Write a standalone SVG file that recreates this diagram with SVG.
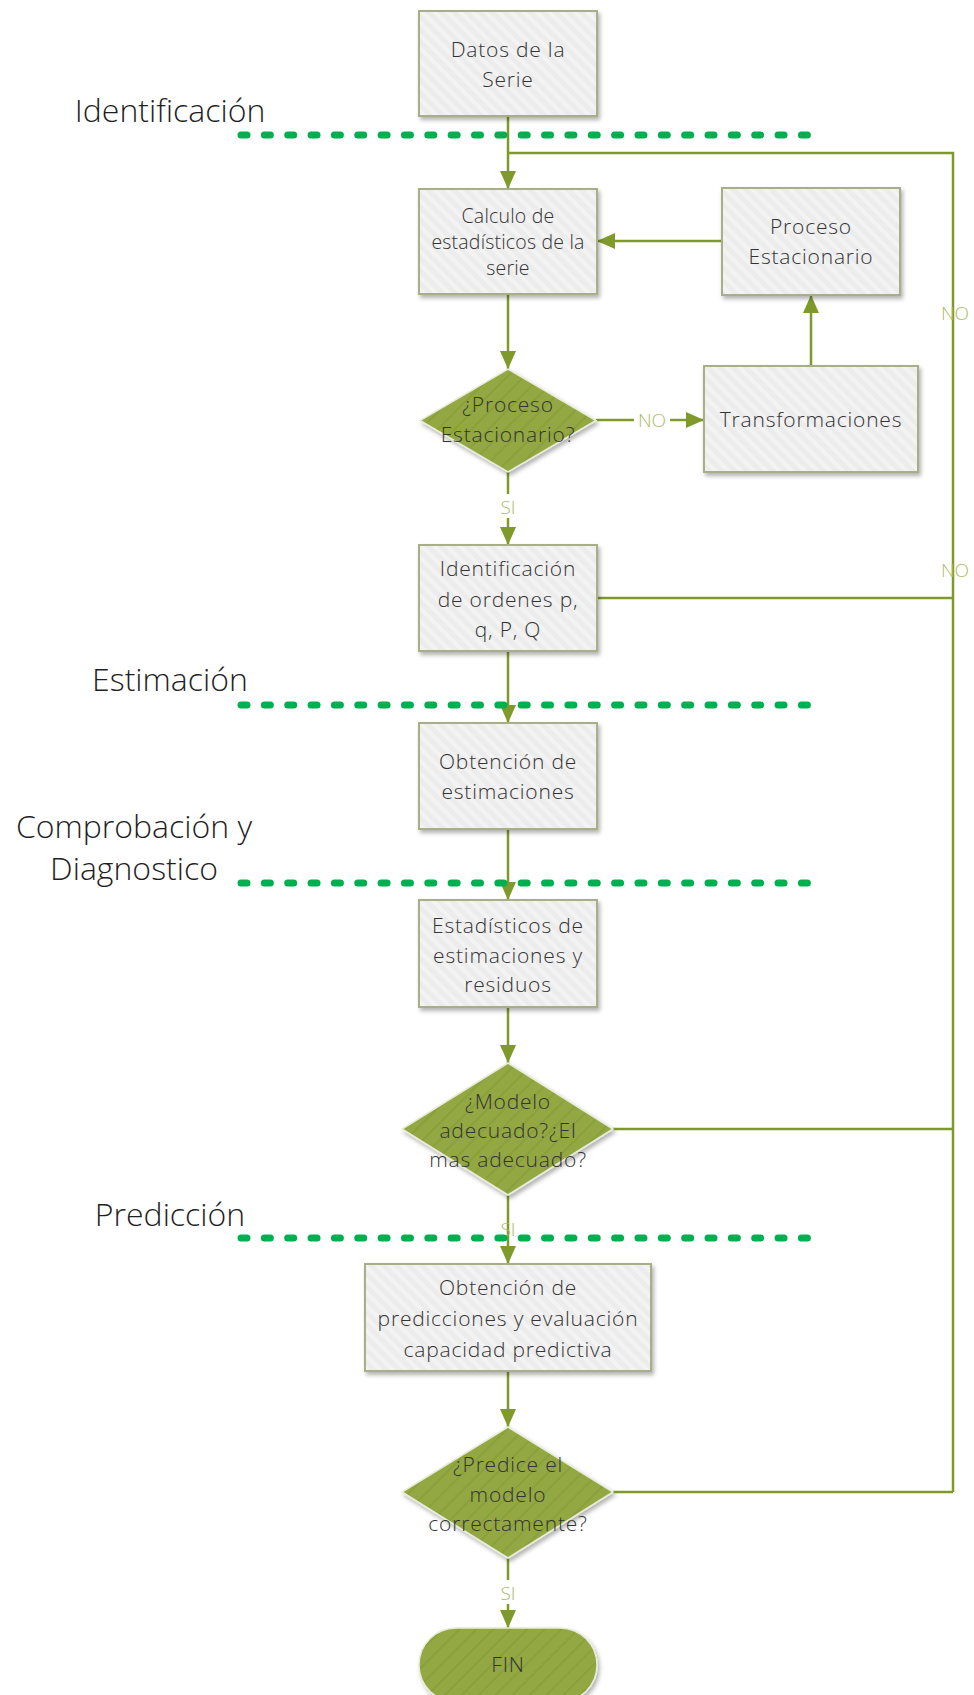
<svg xmlns="http://www.w3.org/2000/svg" width="974" height="1695" viewBox="0 0 974 1695">
<defs>
<style>
.box{fill:url(#stripe);stroke:#a8ae87;stroke-width:2;filter:url(#sh)}
.dia{fill:url(#gstripe);stroke:#e8ecd8;stroke-width:1.5;filter:url(#sh)}
.t{font-family:"Open Sans","Liberation Sans",sans-serif;font-weight:300;font-size:21px;letter-spacing:0.8px;fill:#333;text-anchor:middle}
.ts{font-size:19.5px;letter-spacing:0.2px}
.ph{font-family:"Open Sans","Liberation Sans",sans-serif;font-weight:300;font-size:32px;fill:#1f1f1f;text-anchor:middle}
.lbl{font-family:"Open Sans","Liberation Sans",sans-serif;font-weight:300;font-size:19px;fill:#a9bb66;text-anchor:middle}
.c{fill:none;stroke:#7f9a2a;stroke-width:2.5}
.dot{fill:none;stroke:#00b050;stroke-width:7;stroke-linecap:round;stroke-dasharray:6 17.35}
</style>
<pattern id="stripe" patternUnits="userSpaceOnUse" width="9" height="9" patternTransform="rotate(-45)">
<rect width="9" height="9" fill="#ececec"/>
<rect width="4" height="9" fill="#f3f3f3"/>
</pattern>
<pattern id="gstripe" patternUnits="userSpaceOnUse" width="12" height="12" patternTransform="rotate(45)">
<rect width="12" height="12" fill="#93a842"/>
<rect width="2" height="12" fill="#8aa03c"/>
</pattern>
<filter id="sh" x="-10%" y="-10%" width="125%" height="130%">
<feDropShadow dx="2" dy="3" stdDeviation="2" flood-color="#000" flood-opacity="0.3"/>
</filter>
<marker id="arr" markerUnits="userSpaceOnUse" markerWidth="18" markerHeight="16" viewBox="0 0 18 16" refX="18" refY="8" orient="auto">
<path d="M0,0 L18,8 L0,16 Z" fill="#7f9a2a"/>
</marker>
</defs>

<g id="connectors">
<path class="c" d="M508,116 V189" marker-end="url(#arr)"/>
<path class="c" d="M508,153 H953 V1492"/>
<path class="c" d="M508,294 V369" marker-end="url(#arr)"/>
<path class="c" d="M596,420 H634 M670,420 H704" marker-end="url(#arr)"/>
<path class="c" d="M811,366 V295" marker-end="url(#arr)"/>
<path class="c" d="M722,241 H597" marker-end="url(#arr)"/>
<path class="c" d="M508,472 V545" marker-end="url(#arr)"/>
<path class="c" d="M597,598 H953"/>
<path class="c" d="M508,651 V723" marker-end="url(#arr)"/>
<path class="c" d="M508,829 V900" marker-end="url(#arr)"/>
<path class="c" d="M508,1007 V1063" marker-end="url(#arr)"/>
<path class="c" d="M613,1129 H953"/>
<path class="c" d="M508,1195 V1264" marker-end="url(#arr)"/>
<path class="c" d="M508,1371 V1427" marker-end="url(#arr)"/>
<path class="c" d="M613,1492 H953"/>
<path class="c" d="M508,1558 V1628" marker-end="url(#arr)"/>
<rect x="498" y="494" width="20" height="24" fill="#fff"/>
<rect x="498" y="1580" width="20" height="24" fill="#fff"/>
<text class="lbl" x="652" y="427">NO</text>
<text class="lbl" x="508" y="514">SI</text>
<text class="lbl" x="508" y="1236">SI</text>
<text class="lbl" x="508" y="1600">SI</text>
<text class="lbl" x="955" y="320">NO</text>
<text class="lbl" x="955" y="577">NO</text>
</g>

<g id="phases">
<text class="ph" x="170" y="122">Identificación</text>
<text class="ph" x="170" y="691">Estimación</text>
<text class="ph" x="134" y="838">Comprobación y</text>
<text class="ph" x="134" y="880">Diagnostico</text>
<text class="ph" x="170" y="1226">Predicción</text>
<path class="dot" d="M241,135 H812"/>
<path class="dot" d="M241,705 H812"/>
<path class="dot" d="M241,883 H812"/>
<path class="dot" d="M241,1238 H812"/>
</g>

<g id="datos">
<rect class="box" x="419" y="11" width="178" height="105"/>
<text class="t" x="508" y="57">Datos de la</text>
<text class="t" x="508" y="87">Serie</text>
</g>
<g id="calculo">
<rect class="box" x="419" y="189" width="178" height="105"/>
<text class="t ts" x="508" y="223">Calculo de</text>
<text class="t ts" x="508" y="249">estadísticos de la</text>
<text class="t ts" x="508" y="275">serie</text>
</g>
<g id="proceso">
<rect class="box" x="722" y="188" width="178" height="107"/>
<text class="t" x="811" y="234">Proceso</text>
<text class="t" x="811" y="264">Estacionario</text>
</g>
<g id="decision1">
<polygon class="dia" points="508,369 596,420.5 508,472 420,420.5"/>
<text class="t" x="508" y="412">¿Proceso</text>
<text class="t" x="508" y="442">Estacionario?</text>
</g>
<g id="transformaciones">
<rect class="box" x="704" y="366" width="214" height="106"/>
<text class="t" x="811" y="427">Transformaciones</text>
</g>
<g id="identificacion">
<rect class="box" x="419" y="545" width="178" height="106"/>
<text class="t" x="508" y="576">Identificación</text>
<text class="t" x="508" y="607">de ordenes p,</text>
<text class="t" x="508" y="637">q, P, Q</text>
</g>
<g id="obtencion">
<rect class="box" x="419" y="723" width="178" height="106"/>
<text class="t" x="508" y="769">Obtención de</text>
<text class="t" x="508" y="799">estimaciones</text>
</g>
<g id="estadisticos">
<rect class="box" x="419" y="900" width="178" height="107"/>
<text class="t" x="508" y="933">Estadísticos de</text>
<text class="t" x="508" y="963">estimaciones y</text>
<text class="t" x="508" y="992">residuos</text>
</g>
<g id="decision2">
<polygon class="dia" points="508,1063 613,1129 508,1195 402,1129"/>
<text class="t" x="508" y="1109">¿Modelo</text>
<text class="t" x="508" y="1138">adecuado?¿El</text>
<text class="t" x="508" y="1167">mas adecuado?</text>
</g>
<g id="predicciones">
<rect class="box" x="365" y="1264" width="286" height="107"/>
<text class="t" x="508" y="1295">Obtención de</text>
<text class="t" x="508" y="1326">predicciones y evaluación</text>
<text class="t" x="508" y="1357">capacidad predictiva</text>
</g>
<g id="decision3">
<polygon class="dia" points="508,1427 613,1492 508,1558 402,1492"/>
<text class="t" x="508" y="1472">¿Predice el</text>
<text class="t" x="508" y="1502">modelo</text>
<text class="t" x="508" y="1531">correctamente?</text>
</g>
<g id="fin">
<rect x="419" y="1628" width="178" height="74" rx="37" ry="37" fill="url(#gstripe)" stroke="#e8ecd8" stroke-width="1.5" filter="url(#sh)"/>
<text class="t" x="508" y="1672">FIN</text>
</g>
</svg>
